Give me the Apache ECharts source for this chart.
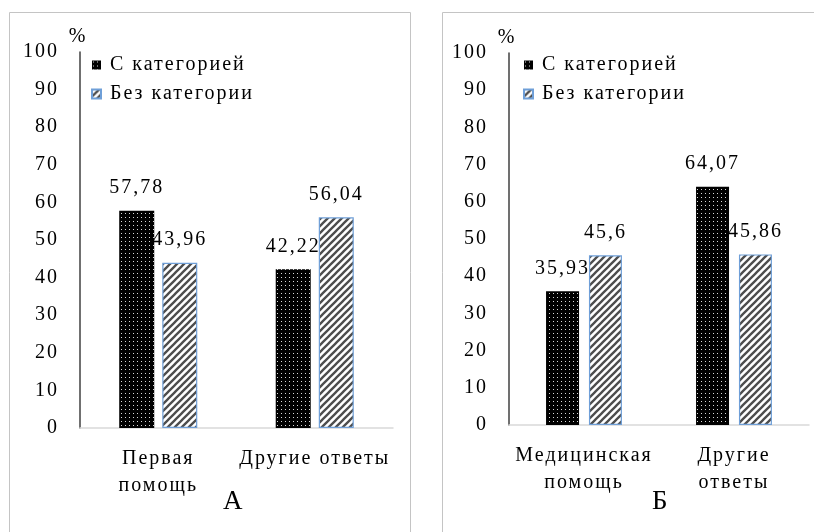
<!DOCTYPE html>
<html lang="ru">
<head>
    <meta charset="UTF-8">
    <title>chart</title>
    <script src="https://cdn.jsdelivr.net/npm/echarts@6/dist/echarts.min.js"></script>
    <style>
        html, body {
            margin: 0;
            padding: 0;
            background: #fff;
        }
        #app {
            width: 814px;
            height: 532px;
        }
    </style>
</head>
<body>
<div id="app"></div>
<script>
    var seriesNames = ['С категорией', 'Без категории'];

    // panel A
    var catsA = ['Первая\nпомощь', 'Другие ответы'];
    var withA = [57.78, 42.22];
    var withoutA = [43.96, 56.04];

    // panel B
    var catsB = ['Медицинская\nпомощь', 'Другие\nответы'];
    var withB = [35.93, 64.07];
    var withoutB = [45.6, 45.86];

    var yMin = 0, yMax = 100, yStep = 10;
    var panelTitles = ['А', 'Б'];

    var font = 'Liberation Serif';
    var fs = 20;

    // the original text is spaced out, echarts has no option for that
    var _fillText = CanvasRenderingContext2D.prototype.fillText;
    CanvasRenderingContext2D.prototype.fillText = function () {
        this.letterSpacing = '2px';
        return _fillText.apply(this, arguments);
    };

    // dotted black fill
    function dotPattern() {
        var c = document.createElement('canvas');
        c.width = 4;
        c.height = 4;
        var ctx = c.getContext('2d');
        ctx.fillStyle = '#000';
        ctx.fillRect(0, 0, 4, 4);
        ctx.fillStyle = '#d8d8d8';
        ctx.fillRect(1, 1, 1, 1);
        return c;
    }

    // diagonal hatch fill
    function hatchPattern() {
        var s = 7;
        var c = document.createElement('canvas');
        c.width = s;
        c.height = s;
        var ctx = c.getContext('2d');
        ctx.fillStyle = '#fff';
        ctx.fillRect(0, 0, s, s);
        ctx.strokeStyle = '#4d4d4d';
        ctx.lineWidth = 2.3;
        ctx.beginPath();
        ctx.moveTo(-1, s + 1); ctx.lineTo(s + 1, -1);
        ctx.moveTo(-2, 2); ctx.lineTo(2, -2);
        ctx.moveTo(s - 2, s + 2); ctx.lineTo(s + 2, s - 2);
        ctx.stroke();
        return c;
    }

    var dots = {image: dotPattern(), repeat: 'repeat'};
    var hatch = {image: hatchPattern(), repeat: 'repeat'};

    function fmt(p) {
        return String(p.value).replace('.', ',');
    }

    var labelStyle = {
        show: true,
        position: 'top',
        distance: 13,
        formatter: fmt,
        fontFamily: font,
        fontSize: fs,
        color: '#000'
    };

    function xAxis(idx, cats) {
        return {
            type: 'category',
            gridIndex: idx,
            data: cats,
            axisTick: {show: false},
            axisLine: {lineStyle: {color: '#d9d9d9', width: 1.5}},
            axisLabel: {
                interval: 0,
                margin: 17,
                fontFamily: font,
                fontSize: fs,
                lineHeight: 27,
                color: '#000'
            }
        };
    }

    function yAxis(idx) {
        return {
            type: 'value',
            gridIndex: idx,
            min: yMin,
            max: yMax,
            interval: yStep,
            name: '%',
            nameGap: 5,
            nameTextStyle: {fontFamily: font, fontSize: fs, color: '#000', padding: [0, 4, 0, 0]},
            splitLine: {show: false},
            axisTick: {show: false},
            axisLine: {show: true, lineStyle: {color: '#404040', width: 1.5}},
            axisLabel: {
                margin: 21,
                fontFamily: font,
                fontSize: fs,
                color: '#000'
            }
        };
    }

    function barPair(idx, a, b, bw, gap) {
        return [
            {
                name: seriesNames[0],
                type: 'bar',
                xAxisIndex: idx,
                yAxisIndex: idx,
                data: a,
                barWidth: bw,
                barGap: gap,
                itemStyle: {color: dots},
                label: labelStyle
            },
            {
                name: seriesNames[1],
                type: 'bar',
                xAxisIndex: idx,
                yAxisIndex: idx,
                data: b,
                barWidth: bw,
                barGap: gap,
                itemStyle: {color: hatch, borderColor: '#6f9fd8', borderWidth: 1.2},
                label: labelStyle
            }
        ];
    }

    function legend(left) {
        return {
            data: seriesNames,
            orient: 'vertical',
            left: left,
            top: 50,
            icon: 'rect',
            itemWidth: 9,
            itemHeight: 9,
            itemGap: 9,
            textStyle: {fontFamily: font, fontSize: fs, lineHeight: 20, color: '#000', padding: [0, 0, 0, 4]}
        };
    }

    var option = {
        animation: false,
        backgroundColor: '#fff',
        grid: [
            {left: 80, top: 52, width: 313, height: 376},
            {left: 509, top: 53, width: 300, height: 372}
        ],
        xAxis: [xAxis(0, catsA), xAxis(1, catsB)],
        yAxis: [yAxis(0), yAxis(1)],
        legend: [legend(86), legend(518)],
        graphic: [
            {type: 'rect', shape: {x: 9.5, y: 12.5, width: 401, height: 600}, style: {fill: 'none', stroke: '#c4c4c4', lineWidth: 1}, silent: true},
            {type: 'rect', shape: {x: 442.5, y: 12.5, width: 400, height: 600}, style: {fill: 'none', stroke: '#c4c4c4', lineWidth: 1}, silent: true},
            {type: 'text', left: 223, top: 488, style: {text: panelTitles[0], fontFamily: font, fontSize: 27, fill: '#000'}},
            {type: 'text', left: 652, top: 488, style: {text: panelTitles[1], fontFamily: font, fontSize: 27, fill: '#000'}}
        ],
        series: barPair(0, withA, withoutA, 35, '23%').concat(barPair(1, withB, withoutB, 33, '30%'))
    };

    var myChart = echarts.init(document.getElementById('app'));
    myChart.setOption(option);
</script>
</body>
</html>
